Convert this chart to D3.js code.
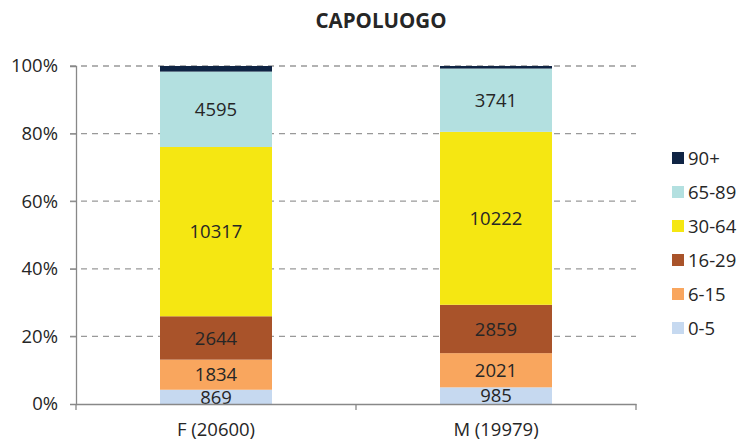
<!DOCTYPE html>
<html>
<head>
<meta charset="utf-8">
<script src="https://cdn.jsdelivr.net/npm/d3@7"></script>
<style>
  body { margin: 0; background: #fff; }
  text { font-family: "Open Sans", "Noto Sans", sans-serif; fill: #262626; }
</style>
</head>
<body>
<svg width="739" height="441"></svg>
<script>
// dati
var categories = ["F (20600)", "M (19979)"];
var groups = ["0-5", "6-15", "16-29", "30-64", "65-89", "90+"];
var values = {
  "0-5":   [869, 985],
  "6-15":  [1834, 2021],
  "16-29": [2644, 2859],
  "30-64": [10317, 10222],
  "65-89": [4595, 3741],
  "90+":   [341, 151]
};
var colors = ["#c6d9f0", "#f9a65e", "#a9532a", "#f5e712", "#b3e0e0", "#0f2444"];
var yTicks = [0, 0.2, 0.4, 0.6, 0.8, 1];

var svg = d3.select("svg");

var x = d3.scaleBand().domain(categories).range([76, 636]).paddingInner(0).paddingOuter(0);
var y = d3.scaleLinear().domain([0, 1]).range([404, 66]);
var color = d3.scaleOrdinal().domain(groups).range(colors);

// righe di griglia
svg.append("g").selectAll("line")
  .data(yTicks.slice(1))
  .enter().append("line")
  .attr("x1", 70).attr("x2", 636)
  .attr("y1", function(d) { return y(d); })
  .attr("y2", function(d) { return y(d); })
  .attr("stroke", "#999")
  .attr("stroke-width", 1.3)
  .attr("stroke-dasharray", "6,5");

// stack in percentuale
var rows = categories.map(function(c, i) {
  var r = {cat: c};
  var tot = d3.sum(groups, function(g) { return values[g][i]; });
  groups.forEach(function(g) { r[g] = values[g][i] / tot; r["n_" + g] = values[g][i]; });
  return r;
});
var series = d3.stack().keys(groups)(rows);

var bw = x.bandwidth() * 0.4;

var layer = svg.append("g").selectAll("g")
  .data(series)
  .enter().append("g")
  .attr("fill", function(d) { return color(d.key); });

layer.selectAll("rect")
  .data(function(d) { return d; })
  .enter().append("rect")
  .attr("x", function(d) { return x(d.data.cat) + (x.bandwidth() - bw) / 2; })
  .attr("width", bw)
  .attr("y", function(d) { return y(d[1]); })
  .attr("height", function(d) { return y(d[0]) - y(d[1]); });

// etichette
series.forEach(function(s) {
  if (s.key == "90+") return;
  svg.append("g").selectAll("text")
    .data(s)
    .enter().append("text")
    .attr("x", function(d) { return x(d.data.cat) + x.bandwidth() / 2; })
    .attr("y", function(d) { return (y(d[0]) + y(d[1])) / 2; })
    .attr("dy", "0.36em")
    .attr("text-anchor", "middle")
    .style("font-size", "18.5px")
    .text(function(d) { return d.data["n_" + s.key]; });
});

// assi
var yAxis = d3.axisLeft(y).tickValues(yTicks).tickSize(6).tickFormat(d3.format(".0%"));
var yG = svg.append("g").attr("transform", "translate(76,0)").call(yAxis);
yG.select(".domain").attr("stroke", "#888").attr("stroke-width", 1.3);
yG.selectAll(".tick line").attr("stroke", "#888");
yG.selectAll(".tick text").attr("x", -18).style("font-size", "18.5px").style("font-family", "Open Sans, sans-serif").attr("fill", "#262626");

var xAxis = d3.axisBottom(x).tickSize(0).tickSizeOuter(0);
var xG = svg.append("g").attr("transform", "translate(0,404)").call(xAxis);
xG.select(".domain").attr("stroke", "#888").attr("stroke-width", 1.3);
xG.selectAll(".tick text").attr("y", 19).style("font-size", "18.5px").style("font-family", "Open Sans, sans-serif").attr("fill", "#262626");

// tacche di separazione categorie
svg.append("g").selectAll("line")
  .data([76, 356, 636])
  .enter().append("line")
  .attr("x1", function(d) { return d; }).attr("x2", function(d) { return d; })
  .attr("y1", 404).attr("y2", 410)
  .attr("stroke", "#888").attr("stroke-width", 1.3);

// titolo
svg.append("text")
  .attr("x", 381).attr("y", 28)
  .attr("text-anchor", "middle")
  .style("font-size", "20.5px")
  .style("font-weight", "bold")
  .text("CAPOLUOGO");

// legenda
var leg = svg.append("g").selectAll("g")
  .data(groups.slice().reverse())
  .enter().append("g")
  .attr("transform", function(d, i) { return "translate(672," + (158 + i * 34) + ")"; });
leg.append("rect")
  .attr("x", 0).attr("y", -6).attr("width", 12).attr("height", 12)
  .attr("fill", function(d) { return color(d); });
leg.append("text")
  .attr("x", 16).attr("dy", "0.36em")
  .style("font-size", "18.5px")
  .text(function(d) { return d; });
</script>
</body>
</html>
